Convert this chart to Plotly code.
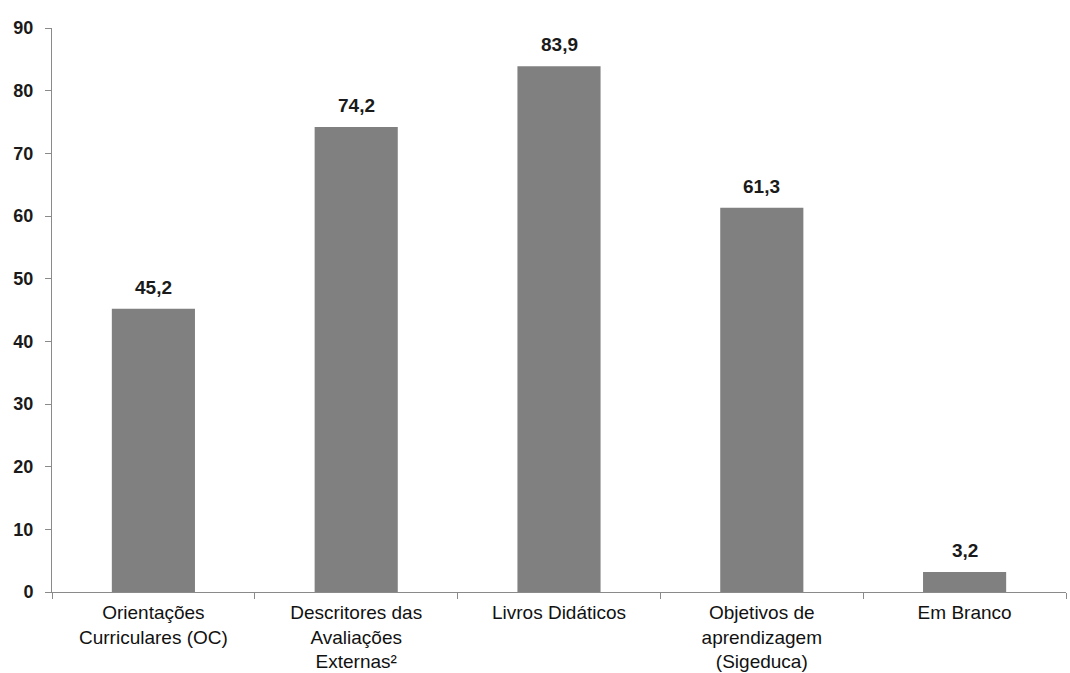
import plotly.graph_objects as go

categories = [
    "Orientações<br>Curriculares (OC)",
    "Descritores das<br>Avaliações<br>Externas²",
    "Livros Didáticos",
    "Objetivos de<br>aprendizagem<br>(Sigeduca)",
    "Em Branco",
]
values = [45.2, 74.2, 83.9, 61.3, 3.2]
y_ticks = [0, 10, 20, 30, 40, 50, 60, 70, 80, 90]

fig = go.Figure()
fig.add_trace(go.Bar(
    x=categories,
    y=values,
    marker=dict(color="#808080", line=dict(width=0)),
    hoverinfo="skip",
))

# value labels above each bar
for c, v in zip(categories, values):
    fig.add_annotation(
        x=c, y=v, text=f"{v:.1f}".replace(".", ","),
        showarrow=False, yanchor="bottom", yshift=9,
        font=dict(family="Liberation Sans, Arial", size=19, color="#1a1a1a", weight="bold"),
    )

axis_color = "#8a8a8a"
fig.update_layout(
    width=1070, height=673,
    margin=dict(l=52, r=4, t=28, b=81, autoexpand=False),
    paper_bgcolor="white", plot_bgcolor="white",
    bargap=0.59,
    showlegend=False,
    separators=",.",
    xaxis=dict(
        type="category",
        showline=True, linecolor=axis_color, linewidth=1,
        ticks="outside", tickson="boundaries", ticklen=6, tickcolor=axis_color,
        showgrid=False, zeroline=False,
        ticklabelstandoff=3,
        tickfont=dict(family="Liberation Sans, Arial", size=19, color="#111111"),
        automargin=False,
    ),
    yaxis=dict(
        range=[0, 90], tickvals=y_ticks,
        showline=True, linecolor=axis_color, linewidth=1,
        ticks="outside", ticklen=6, tickcolor=axis_color,
        showgrid=False, zeroline=False,
        ticklabelstandoff=8,
        tickfont=dict(family="Liberation Sans, Arial", size=18, color="#1a1a1a", weight="bold"),
        automargin=False,
    ),
)

fig.write_html("out.html")
